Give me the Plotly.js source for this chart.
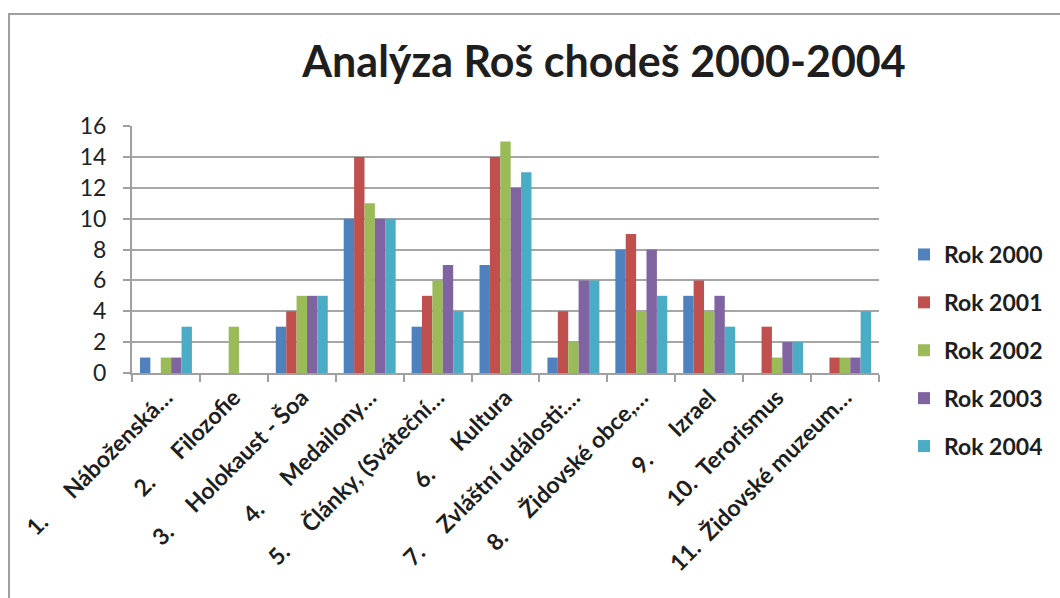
<!DOCTYPE html>
<html>
<head>
<meta charset="utf-8">
<script src="https://cdn.plot.ly/plotly-3.0.1.min.js"></script>
<style>html,body{margin:0;padding:0;background:#fff;}#chart{width:1060px;height:598px;}</style>
</head>
<body>
<div id="chart"></div>
<script>
var NB = '\u00A0';
var categories = [
  '1.' + NB.repeat(6) + 'Náboženská…',
  '2.' + NB.repeat(6) + 'Filozofie',
  '3.' + NB.repeat(5) + 'Holokaust - Šoa',
  '4.' + NB.repeat(6) + 'Medailony…',
  '5.' + NB.repeat(5) + 'Články, (Sváteční…',
  '6.' + NB.repeat(6) + 'Kultura',
  '7.' + NB.repeat(5) + 'Zvláštní události:…',
  '8.' + NB.repeat(5) + 'Židovské obce,…',
  '9.' + NB.repeat(6) + 'Izrael',
  '10.' + NB.repeat(2) + 'Terorismus',
  '11.' + NB.repeat(2) + 'Židovské muzeum…'
];
var seriesNames = ['Rok 2000', 'Rok 2001', 'Rok 2002', 'Rok 2003', 'Rok 2004'];
var rok2000 = [1, 0, 3, 10, 3, 7, 1, 8, 5, 0, 0];
var rok2001 = [0, 0, 4, 14, 5, 14, 4, 9, 6, 3, 1];
var rok2002 = [1, 3, 5, 11, 6, 15, 2, 4, 4, 1, 1];
var rok2003 = [1, 0, 5, 10, 7, 12, 6, 8, 5, 2, 1];
var rok2004 = [3, 0, 5, 10, 4, 13, 6, 5, 3, 2, 4];
var yTicks = [0, 2, 4, 6, 8, 10, 12, 14, 16];

var colors = ['#4F81BD', '#C0504D', '#9BBB59', '#8064A2', '#4BACC6'];
var allSeries = [rok2000, rok2001, rok2002, rok2003, rok2004];

var traces = allSeries.map(function (vals, i) {
  return {
    type: 'bar',
    name: seriesNames[i],
    x: categories,
    y: vals,
    legendgroup: 'g' + i,
    marker: {color: colors[i], line: {width: 0}},
    hoverinfo: 'y+name'
  };
});

var L = 132, R = 879, T = 126, B = 373;
var W = R - L, H = B - T;
function px(x) { return (x - L) / W; }
function py(y) { return (B - y) / H; }

var layout = {
  width: 1060, height: 598,
  margin: {l: L, r: 1060 - R, t: T, b: 598 - B, pad: 0},
  paper_bgcolor: '#ffffff', plot_bgcolor: '#ffffff',
  barmode: 'group', bargap: 0.235, bargroupgap: 0,
  font: {family: 'Lato, "Open Sans", sans-serif', color: '#222222'},
  title: {
    text: '<b>Analýza Roš chodeš 2000-2004</b>',
    font: {family: 'Lato, sans-serif', size: 43, color: '#1e1e1e'},
    xref: 'container', yref: 'container',
    x: 604 / 1060, xanchor: 'center',
    y: 1 - 62 / 598, yanchor: 'middle'
  },
  xaxis: {
    type: 'category',
    showgrid: false,
    showline: true, linecolor: '#a0a0a0', linewidth: 2,
    ticks: 'outside', tickson: 'boundaries', ticklen: 7, tickcolor: '#a0a0a0', tickwidth: 2,
    tickangle: -45,
    tickfont: {family: 'Lato, sans-serif', size: 23, color: '#1e1e1e', weight: 'bold'},
    fixedrange: true
  },
  yaxis: {
    range: [0, 16],
    tickvals: yTicks,
    showgrid: true, gridcolor: '#a6a6a6', gridwidth: 2,
    zeroline: false,
    showline: true, linecolor: '#a0a0a0', linewidth: 2,
    ticks: 'outside', ticklen: 7, tickcolor: '#a0a0a0', tickwidth: 2,
    ticklabelstandoff: 12,
    tickfont: {family: 'Lato, sans-serif', size: 23, color: '#222222'},
    fixedrange: true
  },
  legend: {
    x: px(904), y: py(233), xanchor: 'left', yanchor: 'top',
    font: {family: 'Lato, sans-serif', size: 23, color: '#1e1e1e', weight: 'bold'},
    traceorder: 'grouped', tracegroupgap: 15,
    itemwidth: 30, bgcolor: 'rgba(0,0,0,0)'
  },
  shapes: [{
    type: 'path', xref: 'paper', yref: 'paper',
    path: 'M ' + px(9) + ',' + py(700) + ' L ' + px(9) + ',' + py(14) + ' L ' + px(1200) + ',' + py(14),
    line: {color: '#a0a0a0', width: 2}
  }]
};

Plotly.newPlot('chart', traces, layout, {displayModeBar: false, staticPlot: true});
</script>
</body>
</html>
